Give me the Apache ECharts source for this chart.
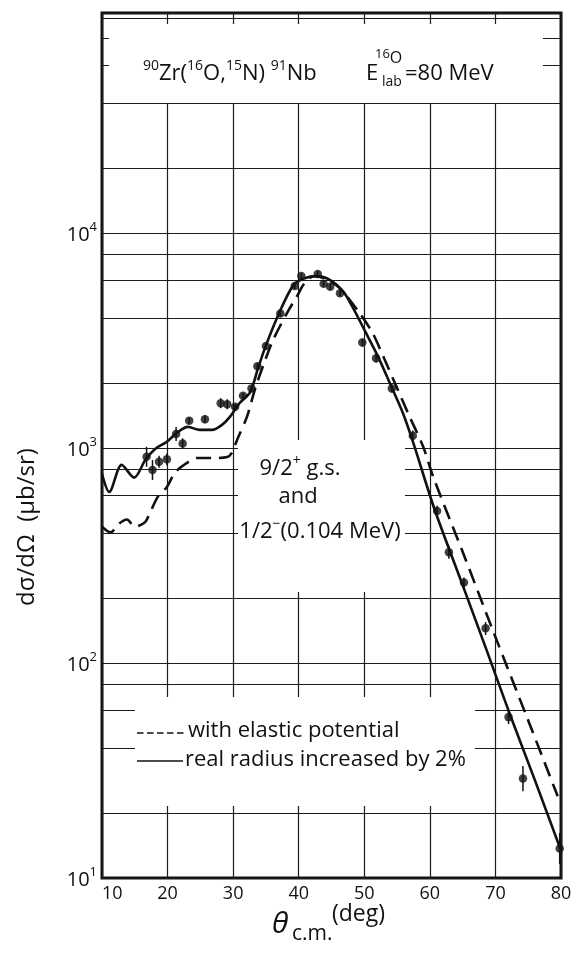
<!DOCTYPE html>
<html>
<head>
<meta charset="utf-8">
<script src="https://cdn.jsdelivr.net/npm/echarts@6/dist/echarts.min.js"></script>
<style>
html, body { margin: 0; padding: 0; background: #fff; }
#chart { width: 578px; height: 959px; }
</style>
</head>
<body>
<div id="chart"></div>
<script>
// Measured cross sections: 90Zr(16O,15N)91Nb, E_lab = 80 MeV (µb/sr vs. θ_c.m. in deg)
const angles  = [16.8, 17.7, 18.7, 19.9, 21.3, 22.3, 23.3, 25.7, 28.1, 29.1, 30.3, 31.5, 32.8, 33.7, 35.0, 37.2, 39.4, 40.4, 42.9, 43.8, 44.8, 46.3, 49.7, 51.8, 54.2, 57.4, 61.1, 62.9, 65.2, 68.5, 72.0, 74.2, 79.8];
const sigma   = [910, 790, 863, 885, 1160, 1050, 1340, 1360, 1615, 1595, 1555, 1750, 1890, 2400, 2980, 4220, 5660, 6310, 6440, 5800, 5620, 5240, 3090, 2610, 1890, 1140, 509, 327, 237, 145, 56, 29, 13.7];
const sigmaLo = [818, 710, 810, 830, 1076, 995, 1297, 1303, 1531, 1512, 1505, 1694, 1830, 2323, 2885, 4085, 5480, 6110, 6235, 5615, 5440, 5070, 2960, 2500, 1810, 1080, 482, 305, 224, 135, 52, 25.3, 11.6];
const sigmaHi = [1013, 879, 920, 943, 1250, 1108, 1384, 1420, 1704, 1683, 1606, 1808, 1952, 2479, 3078, 4360, 5845, 6515, 6650, 5990, 5805, 5410, 3225, 2725, 1975, 1205, 538, 350, 250, 155, 60, 33.2, 16.2];

// DWBA curve: real radius increased by 2%
const solidAngles = [10.0, 11.1, 13.0, 14.9, 16.6, 18.1, 19.9, 21.4, 23.1, 24.9, 26.8, 28.3, 29.5, 31.0, 32.6, 33.8, 35.0, 37.1, 39.2, 40.9, 42.7, 44.8, 46.8, 48.3, 50.1, 52.1, 53.9, 55.9, 57.5, 60.7, 64.8, 68.6, 72.0, 76.0, 80.0];
const solidValues = [757, 624, 834, 728, 879, 989, 1069, 1175, 1253, 1213, 1213, 1280, 1394, 1618, 1820, 2350, 3000, 4300, 5720, 6150, 6300, 6040, 5330, 4470, 3500, 2660, 2000, 1450, 1050, 520, 239, 116, 60, 28.6, 13.4];

// DWBA curve: with elastic potential
const dashAngles = [10.0, 11.3, 12.6, 13.8, 15.0, 16.0, 16.7, 18.5, 19.9, 21.1, 22.3, 24.5, 26.9, 29.1, 29.8, 30.6, 32.1, 33.3, 34.5, 36.1, 38.4, 39.7, 40.9, 42.4, 44.2, 46.3, 49.3, 51.3, 52.9, 54.9, 56.9, 59.0, 60.5, 65.1, 69.6, 75.0, 79.5];
const dashValues = [430, 405, 445, 465, 430, 440, 457, 592, 659, 766, 825, 898, 898, 908, 948, 1090, 1394, 1862, 2380, 3180, 4340, 5050, 5840, 6310, 6090, 5520, 4230, 3410, 2660, 1930, 1400, 1010, 735, 323, 142, 54, 24];

// Axis ticks and log-paper rulings
const xTickValues = [10, 20, 30, 40, 50, 60, 70, 80];
const yDecadeLabels = { 10: '1', 100: '2', 1000: '3', 10000: '4' };
const minorRulings = [20, 40, 60, 80, 200, 400, 600, 800, 2000, 4000, 6000, 8000, 20000, 40000, 60000, 80000];

const FONT = '"Open Sans", "Liberation Sans", sans-serif';
const INK = '#111';
const RULE = { color: '#1c1c1c', width: 1.2 };

const chart = echarts.init(document.getElementById('chart'), null, { renderer: 'canvas' });

function whiteBox(x, y, w, h) {
  return { type: 'rect', z: 1, silent: true, shape: { x, y, width: w, height: h }, style: { fill: '#fff' } };
}
function plain(x, y, text, font, align, extra) {
  return Object.assign({
    type: 'text', z: 10, silent: true, x, y,
    style: { text, fill: INK, font: font + ' ' + FONT, align: align || 'left', verticalAlign: 'middle' }
  }, extra || {});
}
function richText(x, y, text, rich, align) {
  return {
    type: 'text', z: 10, silent: true, x, y,
    style: { text, rich, fill: INK, align: align || 'left', verticalAlign: 'middle' }
  };
}
const supStyle = (size) => ({ fontSize: size, fontFamily: FONT, color: INK, verticalAlign: 'top', lineHeight: size });
const mainStyle = (size, lh) => ({ fontSize: size, fontFamily: FONT, color: INK, verticalAlign: 'bottom', lineHeight: lh });
const labelRich = { s: supStyle(14), m: mainStyle(22, 25) };

const option = {
  backgroundColor: '#fff',
  animation: false,
  grid: { left: 102, right: 17, top: 13, bottom: 81, show: true, borderColor: INK, borderWidth: 3, outerBoundsMode: 'none' },
  xAxis: {
    type: 'value', min: 10, max: 80, interval: 10,
    axisLine: { show: false }, axisTick: { show: false },
    splitLine: { show: true, lineStyle: RULE },
    axisLabel: {
      color: INK, fontFamily: FONT, fontSize: 18, margin: 7, alignMinLabel: 'left',
      formatter: (v) => xTickValues.includes(v) ? String(v) : ''
    }
  },
  yAxis: {
    type: 'log', logBase: 10, min: 10, max: 105400,
    axisLine: { show: false }, axisTick: { show: false },
    splitLine: { show: true, lineStyle: RULE },
    axisLabel: {
      margin: 5,
      formatter: (v) => {
        const key = Math.round(v);
        return yDecadeLabels[key] ? '{b|10}{e|' + yDecadeLabels[key] + '}' : '';
      },
      rich: { b: mainStyle(20, 24), e: supStyle(13) }
    }
  },
  graphic: [
    // clear areas around the captions
    whiteBox(109, 24, 434, 79),
    whiteBox(238, 440, 167, 152),
    whiteBox(135, 697, 340, 109),

    // reaction title
    richText(143, 72, '{s|90}{m|Zr(}{s|16}{m|O,}{s|15}{m|N) }{s|91}{m|Nb}', { s: supStyle(14), m: mainStyle(22, 26) }),
    plain(366, 74, 'E', '22px'),
    richText(375, 57, '{s|16}{o|O}', { s: supStyle(13), o: mainStyle(16, 18) }),
    plain(382, 82, 'lab', '14px'),
    plain(405, 74, '=80 MeV', '22px'),

    // state labels
    richText(300, 467, '{m|9/2}{s|+}{m| g.s.}', labelRich, 'center'),
    plain(298, 497, 'and', '22px', 'center'),
    richText(320, 530, '{m|1/2}{s|−}{m|(0.104 MeV)}', labelRich, 'center'),

    // curve key
    { type: 'line', z: 10, silent: true, shape: { x1: 137, y1: 733, x2: 185, y2: 733 }, style: { stroke: INK, lineWidth: 1.5, lineDash: [6.5, 3.5] } },
    plain(188, 731, 'with elastic potential', '22px'),
    { type: 'line', z: 10, silent: true, shape: { x1: 137, y1: 761, x2: 183, y2: 761 }, style: { stroke: INK, lineWidth: 1.5 } },
    plain(185, 760, 'real radius increased by 2%', '22px'),

    // axis titles
    plain(27, 527, 'dσ/dΩ  (μb/sr)', '24px', 'center', { rotation: Math.PI / 2 }),
    plain(272, 924, 'θ', 'italic 30px'),
    plain(292, 934, 'c.m.', '21px'),
    plain(332, 914, '(deg)', '23px')
  ],
  series: [
    {
      // intermediate log-paper rulings
      type: 'line', data: [], silent: true, z: 0,
      markLine: {
        z: 0.5, silent: true, symbol: 'none', animation: false,
        label: { show: false },
        lineStyle: { color: RULE.color, width: RULE.width, type: 'solid' },
        data: minorRulings.map((v) => ({ yAxis: v }))
      }
    },
    {
      name: 'with elastic potential',
      type: 'line', z: 4, showSymbol: false, smooth: 0.3,
      lineStyle: { color: INK, width: 2.6, type: [15, 8] },
      data: dashAngles.map((a, i) => [a, dashValues[i]])
    },
    {
      name: 'real radius increased by 2%',
      type: 'line', z: 4, showSymbol: false, smooth: 0.3,
      lineStyle: { color: INK, width: 2.6 },
      data: solidAngles.map((a, i) => [a, solidValues[i]])
    },
    {
      type: 'custom', z: 5, silent: true,
      renderItem: (params, api) => {
        const p1 = api.coord([api.value(0), api.value(1)]);
        const p2 = api.coord([api.value(0), api.value(2)]);
        return { type: 'line', shape: { x1: p1[0], y1: p1[1], x2: p2[0], y2: p2[1] }, style: { stroke: INK, lineWidth: 1.5 } };
      },
      encode: { x: 0, y: [1, 2] },
      data: angles.map((a, i) => [a, sigmaLo[i], sigmaHi[i]])
    },
    {
      type: 'scatter', z: 6, symbol: 'circle', symbolSize: 8.5,
      itemStyle: { color: INK },
      data: angles.map((a, i) => [a, sigma[i]])
    }
  ]
};
chart.setOption(option);
</script>
</body>
</html>
